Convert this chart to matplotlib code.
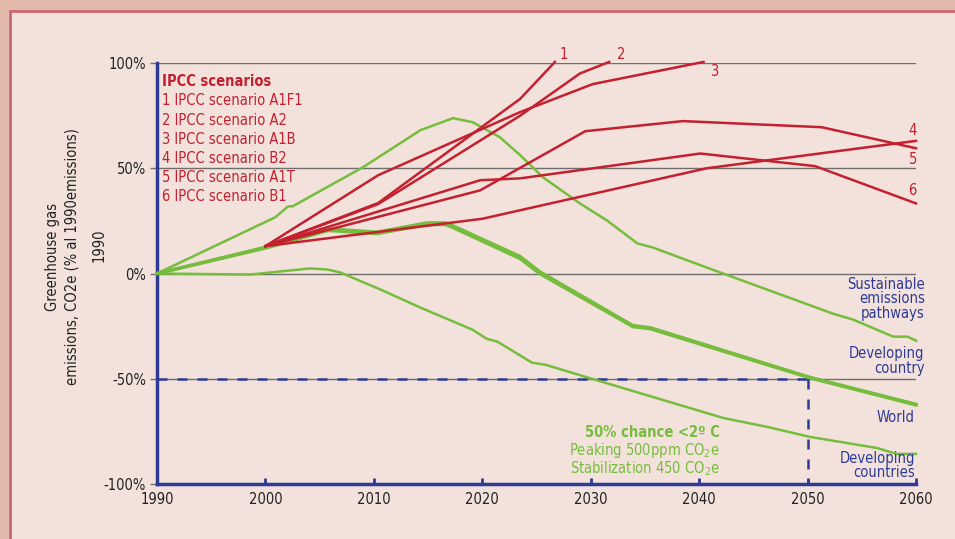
import matplotlib
matplotlib.use("Agg")
import matplotlib.pyplot as plt
from matplotlib.patches import Rectangle

plt.rcParams['font.family'] = ['DejaVu Sans']
plt.rcParams['font.stretch'] = 'condensed'
plt.rcParams['mathtext.fontset'] = 'custom'
plt.rcParams['mathtext.rm'] = 'DejaVu Sans:stretch=condensed'

# ---------------- data ----------------
x_ticks = [1990, 2000, 2010, 2020, 2030, 2040, 2050, 2060]
y_ticks = [-100, -50, 0, 50, 100]
y_tick_labels = ['-100%', '-50%', '0%', '50%', '100%']

legend_title = 'IPCC scenarios'
scenario_names = ['1 IPCC scenario A1F1', '2 IPCC scenario A2', '3 IPCC scenario A1B',
                  '4 IPCC scenario B2', '5 IPCC scenario A1T', '6 IPCC scenario B1']

a1f1_years = [2000, 2010.4, 2023.5, 2026.7]
a1f1_vals = [13, 33.5, 83, 100.5]
a2_years = [2000, 2010.4, 2023.5, 2029, 2031.7]
a2_vals = [13, 33, 75, 95, 100.5]
a1b_years = [2000, 2010.4, 2023.5, 2030.2, 2040.4]
a1b_vals = [13, 46.7, 76.7, 90, 100.5]
b2_years = [2000, 2020, 2040.7, 2060]
b2_vals = [13, 26, 50, 63]
a1t_years = [2000, 2019.8, 2029.5, 2038.5, 2051.3, 2060]
a1t_vals = [13, 39.5, 67.6, 72.4, 69.5, 59.5]
b1_years = [2000, 2019.8, 2023.5, 2040.1, 2050.7, 2060]
b1_vals = [13, 44.3, 45.2, 57, 51, 33.3]

sust_years = [1990, 2000.9, 2002.1, 2002.5, 2009, 2014.3, 2017.3, 2019.1, 2021.6, 2023.5,
              2025.6, 2029, 2031.5, 2034.3, 2035.7, 2038.2, 2042.2, 2052.3, 2054.2,
              2057.9, 2059.2, 2060]
sust_vals = [0, 26.7, 31.9, 31.9, 50.5, 68.1, 73.8, 71.9, 64.8, 56.2,
             45.7, 33.3, 25.2, 14.3, 12.4, 7.6, 0, -19, -21.9,
             -30, -30, -31.9]

world_years = [1990, 2000.2, 2005.8, 2010.3, 2014.9, 2016.6, 2017.3, 2023.5, 2025.3,
               2033.9, 2035.5, 2050.2, 2060]
world_vals = [0, 12.4, 20.5, 19, 23.3, 23.3, 21.9, 7.1, 0,
              -25.2, -26.2, -49.5, -62.4]
devc_years = [1990, 2000.2, 2005.8, 2010.3, 2014.9, 2016.6, 2017.3, 2023.5, 2025.3,
              2033.9, 2035.5, 2050.2, 2060]
devc_vals = [0, 12.9, 21.3, 19.8, 24.2, 24.2, 22.8, 8.2, 1.0,
             -24.6, -25.6, -49.2, -62.0]

dev_years = [1990, 1998.6, 2004.1, 2005.7, 2006.9, 2010.6, 2014.3, 2019.1, 2020.4,
             2021.4, 2024.6, 2025.8, 2030.1, 2042.2, 2046.3, 2050.2, 2056.4, 2058.2, 2060]
dev_vals = [0, -0.5, 2.4, 1.9, 0.5, -7.6, -16.2, -26.7, -31,
            -32.4, -42.4, -43.3, -50, -68.6, -72.9, -77.6, -82.9, -85.7, -85.7]

target_year = 2050
target_val = -50

# ---------------- style ----------------
RED = '#c4202f'
GREEN = '#76bc3d'
BLUE = '#2e3a96'
GREY = '#6e6e6e'
BG = '#f3e2dc'
BAND = '#e2b9ab'
BORDER = '#cc6670'
FS = 10.5

W, H = 955, 539
fig = plt.figure(figsize=(W / 100, H / 100), dpi=100, facecolor=BAND)
fig.patches.append(Rectangle((10 / W, -0.1), 1.2, (H - 11) / H + 0.1,
                             transform=fig.transFigure, facecolor=BG,
                             edgecolor=BORDER, linewidth=2, zorder=-10))

ax = fig.add_axes([157 / W, 1 - 484 / H, (916 - 157) / W, (484 - 63) / H])
ax.set_facecolor('none')
ax.set_xlim(1990, 2060)
ax.set_ylim(-100, 100)

for yv in [100, 50, 0, -50]:
    ax.axhline(yv, color=GREY, lw=1.0, zorder=1)

# target dashed lines
ax.plot([1990, target_year], [target_val, target_val], color=BLUE, lw=1.8,
        dashes=(4, 4), zorder=2)
ax.plot([target_year, target_year], [target_val, -100], color=BLUE, lw=1.8,
        dashes=(4, 4), zorder=2)

# green lines
ax.plot(sust_years, sust_vals, color=GREEN, lw=1.8, zorder=3, clip_on=False)
ax.plot(dev_years, dev_vals, color=GREEN, lw=1.8, zorder=3, clip_on=False)
ax.plot(world_years, world_vals, color=GREEN, lw=2.6, zorder=3, clip_on=False)
ax.plot(devc_years, devc_vals, color=GREEN, lw=2.0, zorder=3, clip_on=False)

# red scenario lines
for yrs, vals in [(a1f1_years, a1f1_vals), (a2_years, a2_vals), (a1b_years, a1b_vals),
                  (b2_years, b2_vals), (a1t_years, a1t_vals), (b1_years, b1_vals)]:
    ax.plot(yrs, vals, color=RED, lw=1.8, zorder=4, clip_on=False)

# spines / ticks
for s in ['top', 'right']:
    ax.spines[s].set_visible(False)
ax.spines['left'].set_color(BLUE)
ax.spines['bottom'].set_color(BLUE)
ax.spines['left'].set_linewidth(2.5)
ax.spines['bottom'].set_linewidth(2.5)
ax.set_xticks(x_ticks)
ax.set_xticklabels([str(v) for v in x_ticks])
ax.set_yticks(y_ticks)
ax.set_yticklabels(y_tick_labels)
ax.tick_params(axis='x', direction='in', length=4, width=2, color=BLUE,
               labelsize=FS, labelcolor='#222222', pad=6)
ax.tick_params(axis='y', direction='out', length=5, width=1, color=GREY,
               labelsize=FS, labelcolor='#222222', pad=3)

# legend text (IPCC scenarios)
ax.text(1990.5, 91, legend_title, color=RED, fontsize=FS, fontweight='bold',
        ha='left', va='center')
for i, name in enumerate(scenario_names):
    ax.text(1990.5, 82 - i * 9.1, name, color=RED, fontsize=FS, ha='left', va='center')

# scenario numbers
ax.text(2027.5, 104, '1', color=RED, fontsize=FS, ha='center', va='center', clip_on=False)
ax.text(2032.8, 104, '2', color=RED, fontsize=FS, ha='center', va='center', clip_on=False)
ax.text(2041.4, 96, '3', color=RED, fontsize=FS, ha='center', va='center')
ax.text(2059.7, 68, '4', color=RED, fontsize=FS, ha='center', va='center')
ax.text(2059.7, 54, '5', color=RED, fontsize=FS, ha='center', va='center')
ax.text(2059.7, 39.5, '6', color=RED, fontsize=FS, ha='center', va='center')

# right labels
ax.text(2060.8, -12, 'Sustainable\nemissions\npathways', color=BLUE, fontsize=FS,
        ha='right', va='center', linespacing=0.95, clip_on=False)
ax.text(2060.8, -41.5, 'Developing\ncountry', color=BLUE, fontsize=FS,
        ha='right', va='center', linespacing=0.95, clip_on=False)
ax.text(2059.9, -68.5, 'World', color=BLUE, fontsize=FS,
        ha='right', va='center', clip_on=False)
ax.text(2059.9, -91.3, 'Developing\ncountries', color=BLUE, fontsize=FS,
        ha='right', va='center', linespacing=0.95, clip_on=False)

# green annotation
ax.text(2041.9, -75.5, '50% chance <2º C', color=GREEN, fontsize=FS, fontweight='bold',
        ha='right', va='center')
ax.text(2041.9, -84, 'Peaking 500ppm CO$_\\mathregular{2}$e', color=GREEN, fontsize=FS,
        ha='right', va='center')
ax.text(2041.9, -92.5, 'Stabilization 450 CO$_\\mathregular{2}$e', color=GREEN, fontsize=FS,
        ha='right', va='center')

# y label
fig.text(53 / W, 1 - 257 / H, 'Greenhouse gas', rotation=90, fontsize=FS,
         ha='center', va='center', color='#222222')
fig.text(72 / W, 1 - 257 / H, 'emissions, CO2e (% al 1990emissions)', rotation=90,
         fontsize=FS, ha='center', va='center', color='#222222')
fig.text(99 / W, 1 - 245 / H, '1990', rotation=90, fontsize=FS,
         ha='center', va='center', color='#222222')

fig.savefig('out.png', dpi=100, facecolor=fig.get_facecolor())
